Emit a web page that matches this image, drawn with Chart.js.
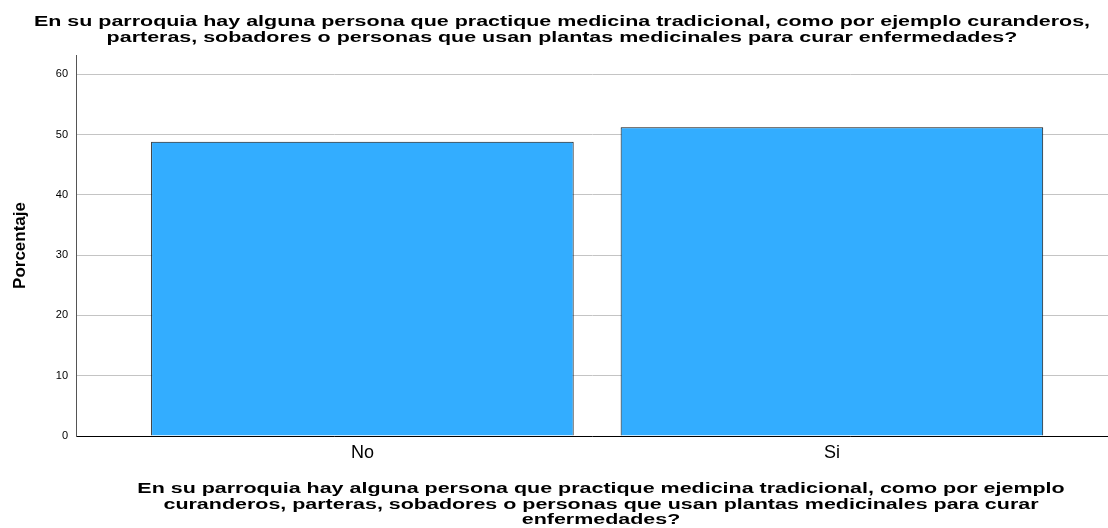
<!DOCTYPE html>
<html>
<head>
<meta charset="utf-8">
<script src="https://cdn.jsdelivr.net/npm/chart.js@4/dist/chart.umd.min.js"></script>
<style>
  html, body { margin: 0; padding: 0; background: #fff; }
  #wrap { width: 1108px; height: 528px; }
</style>
</head>
<body>
<div id="wrap"><canvas id="chart" width="1108" height="528"></canvas></div>
<script>
const categories = ['No', 'Si']
const porcentaje = [48.8, 51.2]
const yTicks = [0, 10, 20, 30, 40, 50, 60]

const titleLines = [
  'En su parroquia hay alguna persona que practique medicina tradicional, como por ejemplo curanderos,',
  'parteras, sobadores o personas que usan plantas medicinales para curar enfermedades?'
]
const axisTitleLines = [
  'En su parroquia hay alguna persona que practique medicina tradicional, como por ejemplo',
  'curanderos, parteras, sobadores o personas que usan plantas medicinales para curar',
  'enfermedades?'
]

const sans = "'Liberation Sans', Arial, sans-serif"

// the SPSS titles use a wide bold face, so stretch the text sideways
function drawStretched(c, lines, cx, baselines, sx) {
  lines.forEach((line, i) => {
    c.save()
    c.translate(cx, baselines[i])
    c.scale(sx, 1)
    c.fillText(line, 0, 0)
    c.restore()
  })
}

const stretchTitles = {
  id: 'stretchTitles',
  afterDraw(chart) {
    const c = chart.ctx
    c.save()
    c.fillStyle = '#000'
    c.font = 'bold 15px ' + sans
    c.textAlign = 'center'
    c.textBaseline = 'alphabetic'
    drawStretched(c, titleLines, 562, [26, 42], 1.43)
    drawStretched(c, axisTitleLines, 601, [493, 508.5, 524], 1.43)
    c.restore()
  }
}

const ctx = document.getElementById('chart').getContext('2d')
new Chart(ctx, {
  type: 'bar',
  data: {
    datasets: [{
      label: 'Porcentaje',
      data: categories.map((c, i) => ({ x: i, y: porcentaje[i] })),
      backgroundColor: '#33adff',
      borderColor: '#111',
      borderWidth: 1,
      categoryPercentage: 0.9,
      barPercentage: 1.0
    }]
  },
  options: {
    responsive: false,
    animation: false,
    layout: { padding: { left: 0, right: 0, top: 55, bottom: 0 } },
    plugins: {
      legend: { display: false },
      tooltip: { enabled: false },
      title: { display: false }
    },
    scales: {
      x: {
        type: 'linear',
        offset: false,
        bounds: 'data',
        min: -0.61,
        max: 1.588,
        afterFit: scale => { scale.height = 92 },
        afterBuildTicks: scale => { scale.ticks = categories.map((c, i) => ({ value: i })) },
        ticks: {
          color: '#000',
          font: { family: sans, size: 18 },
          padding: 6,
          maxRotation: 0,
          callback: v => categories[v] ?? ''
        },
        grid: { display: false, drawTicks: false },
        border: { display: true, color: '#000', width: 1 }
      },
      y: {
        min: 0,
        max: 63.2,
        afterFit: scale => { scale.width = 76 },
        afterBuildTicks: scale => { scale.ticks = yTicks.map(v => ({ value: v })) },
        ticks: {
          color: '#000',
          font: { family: sans, size: 11 },
          padding: 8
        },
        grid: { color: '#c4c4c4', lineWidth: 1, drawTicks: false },
        border: { display: true, color: '#555', width: 1 },
        title: {
          display: true,
          text: 'Porcentaje',
          color: '#000',
          font: { family: sans, size: 17, weight: 'bold' },
          padding: { top: 10, bottom: 0 }
        }
      }
    }
  },
  plugins: [stretchTitles]
})
</script>
</body>
</html>
